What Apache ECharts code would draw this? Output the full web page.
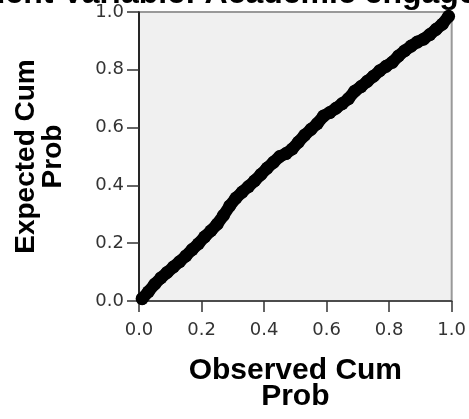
<!DOCTYPE html>
<html>
<head>
<meta charset="utf-8">
<script src="https://cdn.jsdelivr.net/npm/echarts@6/dist/echarts.min.js"></script>
<style>
html,body{margin:0;padding:0;background:#fff;}
#chart{width:469px;height:419px;}
</style>
</head>
<body>
<div id="chart"></div>
<script>
// Values
var observedCum = [0.01,0.03,0.05,0.07,0.09,0.11,0.13,0.15,0.17,0.19,0.21,0.23,0.25,0.27,0.29,0.31,0.33,0.35,0.37,0.39,0.41,0.43,0.45,0.47,0.49,0.51,0.53,0.55,0.57,0.59,0.61,0.63,0.65,0.67,0.69,0.71,0.73,0.75,0.77,0.79,0.81,0.83,0.85,0.87,0.89,0.91,0.93,0.95,0.97,0.99];
var expectedCum = [0.008,0.032,0.058,0.080,0.099,0.118,0.136,0.156,0.178,0.198,0.222,0.243,0.266,0.296,0.329,0.356,0.377,0.396,0.416,0.438,0.460,0.480,0.500,0.510,0.526,0.550,0.574,0.594,0.614,0.640,0.652,0.667,0.683,0.700,0.726,0.742,0.760,0.778,0.797,0.812,0.826,0.848,0.866,0.882,0.896,0.906,0.922,0.940,0.958,0.985];
var tickLabels = ['0.0','0.2','0.4','0.6','0.8','1.0'];
var titleText = 'Dependent Variable: Academic engagement';
var xName = 'Observed Cum\nProb';
var yName = 'Expected Cum\nProb';

var points = observedCum.map(function(x, i){ return [x, expectedCum[i]]; });
function fmt(v){ var i = Math.round(v / 0.2); return tickLabels[i] !== undefined ? tickLabels[i] : ''; }

var chart = echarts.init(document.getElementById('chart'), null, {renderer:'canvas'});
chart.setOption({
  animation: false,
  backgroundColor: '#ffffff',
  title: {
    text: titleText,
    left: -112, top: -22, padding: 0,
    textStyle: {fontFamily: 'Liberation Sans', fontWeight: 'bold', fontSize: 32, lineHeight: 32, color: '#000'}
  },
  grid: {left: 139, right: 16, top: 12, bottom: 118, show: true, backgroundColor: '#f0f0f0', borderColor: '#999', borderWidth: 2},
  xAxis: {
    type: 'value', min: 0, max: 1, interval: 0.2,
    axisLine: {show: true, lineStyle: {color: '#333', width: 1.5}},
    axisTick: {show: true, length: 11, lineStyle: {color: '#333', width: 1.5}},
    axisLabel: {margin: 20, fontSize: 18, fontFamily: 'DejaVu Sans', color: '#333', formatter: fmt},
    splitLine: {show: false},
    name: xName, nameLocation: 'middle', nameGap: 57,
    nameTextStyle: {fontSize: 30, fontWeight: 'bold', fontFamily: 'Liberation Sans', lineHeight: 26, color: '#000'}
  },
  yAxis: {
    type: 'value', min: 0, max: 1, interval: 0.2,
    axisLine: {show: true, lineStyle: {color: '#000', width: 1.5}},
    axisTick: {show: true, length: 12, lineStyle: {color: '#333', width: 1.5}},
    axisLabel: {margin: 15, fontSize: 18, fontFamily: 'DejaVu Sans', color: '#333', formatter: fmt},
    splitLine: {show: false},
    name: yName, nameLocation: 'middle', nameGap: 72,
    nameTextStyle: {fontSize: 28, fontWeight: 'bold', fontFamily: 'Liberation Sans', lineHeight: 27, color: '#000'}
  },
  series: [{
    type: 'line', data: points, showSymbol: false, smooth: false,
    lineStyle: {color: '#000', width: 12, cap: 'round', join: 'round'},
    silent: true, z: 2
  }, {
    type: 'scatter', data: points, symbol: 'circle', symbolSize: 13,
    itemStyle: {color: '#000', opacity: 1}, silent: true, z: 3
  }]
});
</script>
</body>
</html>
